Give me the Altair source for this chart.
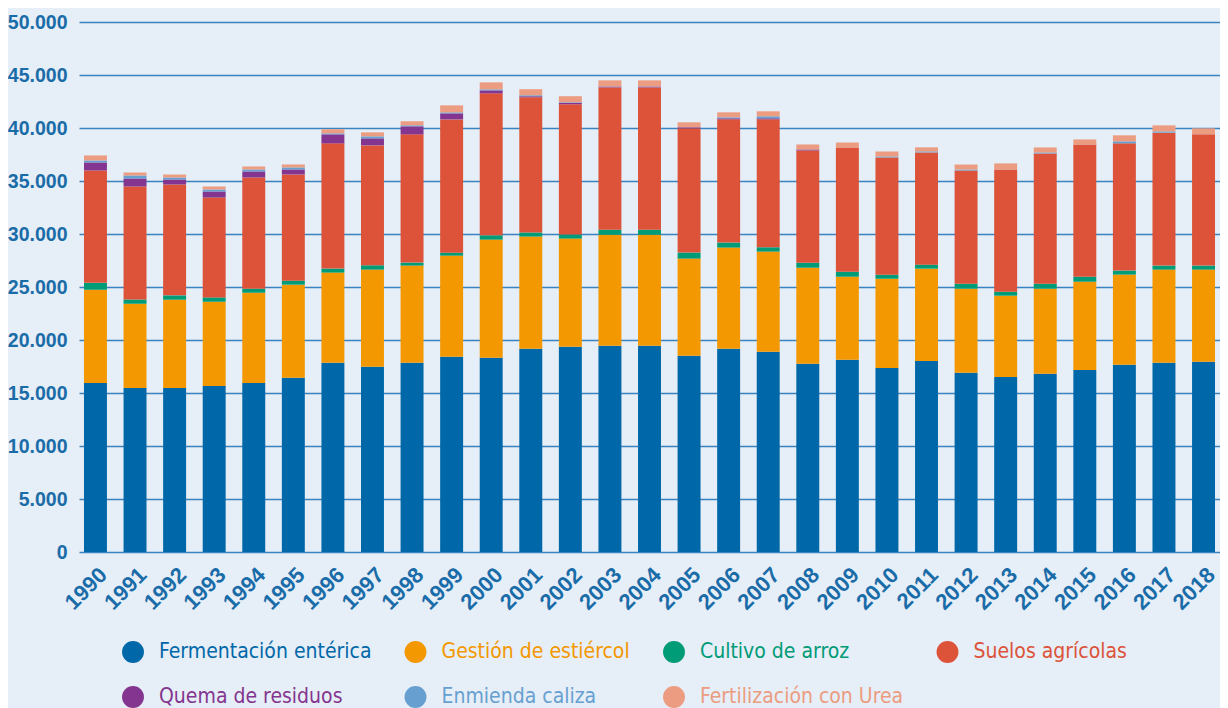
import altair as alt
import pandas as pd
import json

years = [str(y) for y in range(1990, 2019)]

fermentacion = [15950, 15480, 15480, 15670, 15950, 16430, 17850, 17470, 17850, 18410,
                18320, 19170, 19360, 19450, 19450, 18510, 19170, 18890, 17750, 18130,
                17370, 18030, 16900, 16520, 16810, 17180, 17660, 17850, 17940]
gestion = [8790, 7940, 8320, 7940, 8510, 8790, 8510, 9170, 9170, 9550,
           11150, 10590, 10210, 10490, 10490, 9170, 9550, 9450, 9070, 7840,
           8410, 8700, 7940, 7660, 8030, 8320, 8510, 8790, 8700]
arroz = [660, 410, 410, 410, 380, 380, 380, 410, 280, 280,
         410, 380, 380, 470, 470, 570, 470, 410, 470, 470,
         380, 380, 470, 380, 470, 470, 380, 380, 380]
suelos = [10590, 10650, 10460, 9420, 10490, 10020, 11810, 11310, 12100, 12570,
          13390, 12760, 12290, 13420, 13420, 11720, 11630, 12070, 10590, 11720,
          11060, 10590, 10680, 11530, 12290, 12480, 12000, 12540, 12380]
quema = [760, 760, 470, 570, 570, 470, 850, 660, 760, 570,
         280, 95, 130, 80, 80, 95, 95, 95, 95, 0,
         0, 0, 0, 0, 0, 0, 0, 0, 0]
enmienda = [190, 280, 190, 190, 190, 190, 95, 190, 95, 95,
            95, 95, 60, 15, 15, 0, 95, 190, 0, 0,
            95, 95, 95, 0, 95, 0, 190, 120, 0]
urea = [470, 280, 280, 280, 280, 280, 380, 380, 380, 660,
        660, 570, 570, 570, 570, 470, 470, 470, 470, 470,
        470, 380, 470, 570, 470, 470, 570, 570, 570]

series = ["Fermentación entérica", "Gestión de estiércol", "Cultivo de arroz",
          "Suelos agrícolas", "Quema de residuos", "Enmienda caliza",
          "Fertilización con Urea"]
colors = ["#0068A8", "#F39800", "#009B77", "#DC5339", "#84358F", "#67A0D0", "#EC9C80"]
values = [fermentacion, gestion, arroz, suelos, quema, enmienda, urea]

rows = []
for si, (name, vals) in enumerate(zip(series, values)):
    for yr, v in zip(years, vals):
        rows.append({"Año": yr, "Fuente": name, "orden": si, "Valor": v})
df = pd.DataFrame(rows)

axis_font = "Liberation Sans, Arial, sans-serif"
legend_font = "DejaVu Sans Condensed, DejaVu Sans, sans-serif"
axis_blue = "#1A6CA8"

label_color_expr = "{}[indexof({}, datum.value)]".format(
    json.dumps(colors), json.dumps(series, ensure_ascii=False))

chart = alt.Chart(df).mark_bar().encode(
    x=alt.X("Año:N", sort=years,
            scale=alt.Scale(paddingInner=0.42, paddingOuter=0.126),
            axis=alt.Axis(title=None, labelAngle=-45, labelAlign="right",
                          labelBaseline="middle", labelPadding=19, labelOffset=8,
                          labelFontSize=22, labelFont=axis_font, labelFontWeight="bold",
                          labelColor=axis_blue, ticks=False, domain=False,
                          grid=False)),
    y=alt.Y("Valor:Q", stack="zero",
            scale=alt.Scale(domain=[0, 50000], nice=False),
            axis=alt.Axis(title=None, values=list(range(0, 50001, 5000)),
                          labelExpr="replace(format(datum.value, ','), ',', '.')",
                          labelFontSize=19.5, labelFont=axis_font, labelFontWeight="bold",
                          labelColor=axis_blue, labelPadding=12, ticks=False,
                          domain=False, grid=True, gridColor="#3A83BE",
                          gridWidth=1.6)),
    color=alt.Color("Fuente:N", sort=series,
                    scale=alt.Scale(domain=series, range=colors),
                    legend=alt.Legend(title=None, orient="none", legendX=43,
                                      legendY=619, columns=4, direction="horizontal",
                                      symbolType="circle", symbolSize=480,
                                      symbolStrokeWidth=0, symbolOpacity=1,
                                      labelFontSize=21, labelFont=legend_font,
                                      labelOffset=15, columnPadding=32.5,
                                      rowPadding=23, labelLimit=400,
                                      labelColor=alt.ExprRef(expr=label_color_expr))),
    order=alt.Order("orden:Q", sort="ascending"),
).properties(
    width=1141,
    height=530,
    padding={"left": 71, "top": 14, "right": 0, "bottom": 162},
    autosize=alt.AutoSizeParams(type="none"),
    background="#E6EEF7",
).configure_view(stroke=None)

chart.save("out.html", embed_options={"renderer": "svg", "actions": False})
